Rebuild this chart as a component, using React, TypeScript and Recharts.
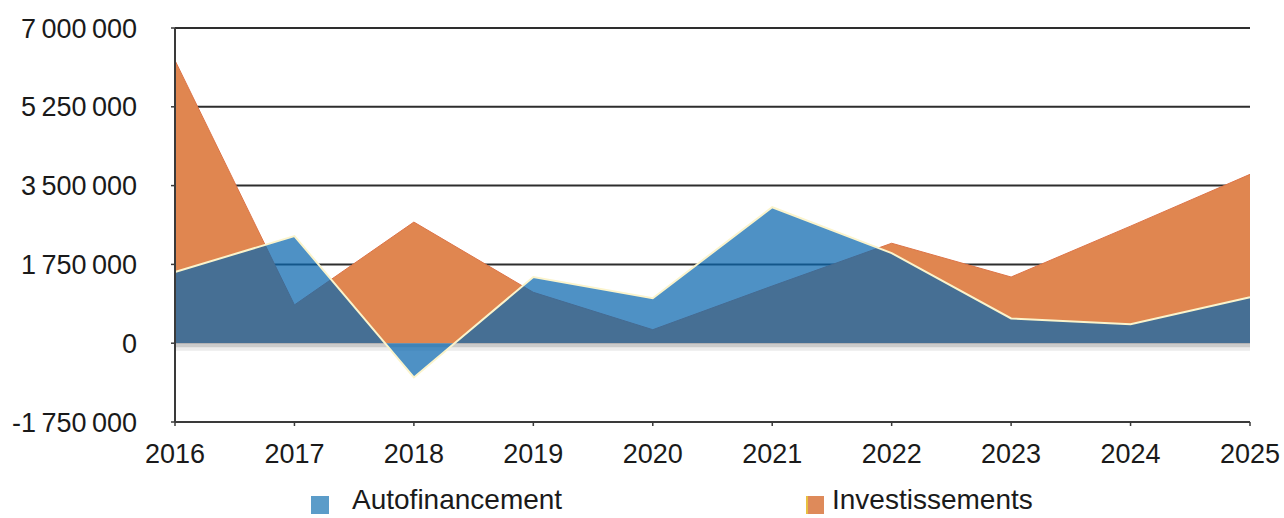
import React from 'react';
import { AreaChart, Area, XAxis, YAxis, CartesianGrid, ReferenceArea } from 'recharts';

const years = ['2016', '2017', '2018', '2019', '2020', '2021', '2022', '2023', '2024', '2025'];
const autofinancement = [1580000, 2380000, -760000, 1470000, 1000000, 3020000, 2000000, 550000, 420000, 1020000];
const investissements = [6280000, 850000, 2690000, 1130000, 300000, 1270000, 2220000, 1470000, 2600000, 3750000];
const yTicks = [-1750000, 0, 1750000, 3500000, 5250000, 7000000];
const gridValues = [1750000, 3500000, 5250000, 7000000];

const data = years.map((year, i) => ({
  year,
  autofinancement: autofinancement[i],
  investissements: investissements[i],
}));

const font = '"Liberation Sans", Arial, sans-serif';

const formatTick = (v: number) => {
  const s = Math.abs(v).toString().replace(/\B(?=(\d{3})+(?!\d))/g, '\u2009');
  return v < 0 ? '-' + s : s;
};

export default function App() {
  return (
    <div style={{ position: 'absolute', left: 0, top: 0, width: 1284, height: 518, background: '#fff', fontFamily: font, overflow: 'hidden' }}>
      <AreaChart width={1284} height={518} data={data} margin={{ top: 28, right: 34, bottom: 0, left: 0 }}>
        <CartesianGrid vertical={false} stroke="#2e2e2e" strokeWidth={2} horizontalValues={gridValues} />
        <XAxis
          dataKey="year"
          height={96}
          tick={{ fill: '#1a1a1a', fontSize: 27, fontFamily: font }}
          tickSize={4}
          tickMargin={18}
          axisLine={{ stroke: '#3a3a3a', strokeWidth: 2 }}
          tickLine={{ stroke: '#3a3a3a', strokeWidth: 1.5 }}
          interval={0}
        />
        <YAxis
          width={175}
          domain={[-1750000, 7000000]}
          ticks={yTicks}
          tickFormatter={formatTick}
          tick={{ fill: '#1a1a1a', fontSize: 27, fontFamily: font }}
          tickSize={4}
          tickMargin={34}
          axisLine={{ stroke: '#3a3a3a', strokeWidth: 2 }}
          tickLine={{ stroke: '#3a3a3a', strokeWidth: 1.5 }}
          allowDataOverflow
        />
        {/* soft shadow under the base line */}
        <ReferenceArea y1={0} y2={-90000} fill="#8c8c8c" fillOpacity={0.45} stroke="none" ifOverflow="visible" />
        <ReferenceArea y1={-90000} y2={-170000} fill="#b4b4b4" fillOpacity={0.25} stroke="none" ifOverflow="visible" />
        <Area
          type="linear"
          dataKey="investissements"
          fill="#e08650"
          fillOpacity={1}
          stroke="#dc7448"
          strokeWidth={1}
          baseValue={0}
          dot={false}
          activeDot={false}
          isAnimationActive={false}
        />
        <Area
          type="linear"
          dataKey="autofinancement"
          fill="#0a66ae"
          fillOpacity={0.72}
          stroke="#fbf4cc"
          strokeWidth={2}
          baseValue={0}
          dot={false}
          activeDot={false}
          isAnimationActive={false}
        />
      </AreaChart>
      <div style={{ position: 'absolute', left: 311, top: 496, width: 18, height: 18, background: '#5b9cc9' }} />
      <div style={{ position: 'absolute', left: 352, top: 485, fontSize: 28, color: '#1a1a1a', lineHeight: '30px' }}>
        Autofinancement
      </div>
      <div style={{ position: 'absolute', left: 806, top: 496, width: 16, height: 18, background: '#de8a5a', borderLeft: '2px solid #e8c040' }} />
      <div style={{ position: 'absolute', left: 832, top: 485, fontSize: 28, color: '#1a1a1a', lineHeight: '30px' }}>
        Investissements
      </div>
    </div>
  );
}
